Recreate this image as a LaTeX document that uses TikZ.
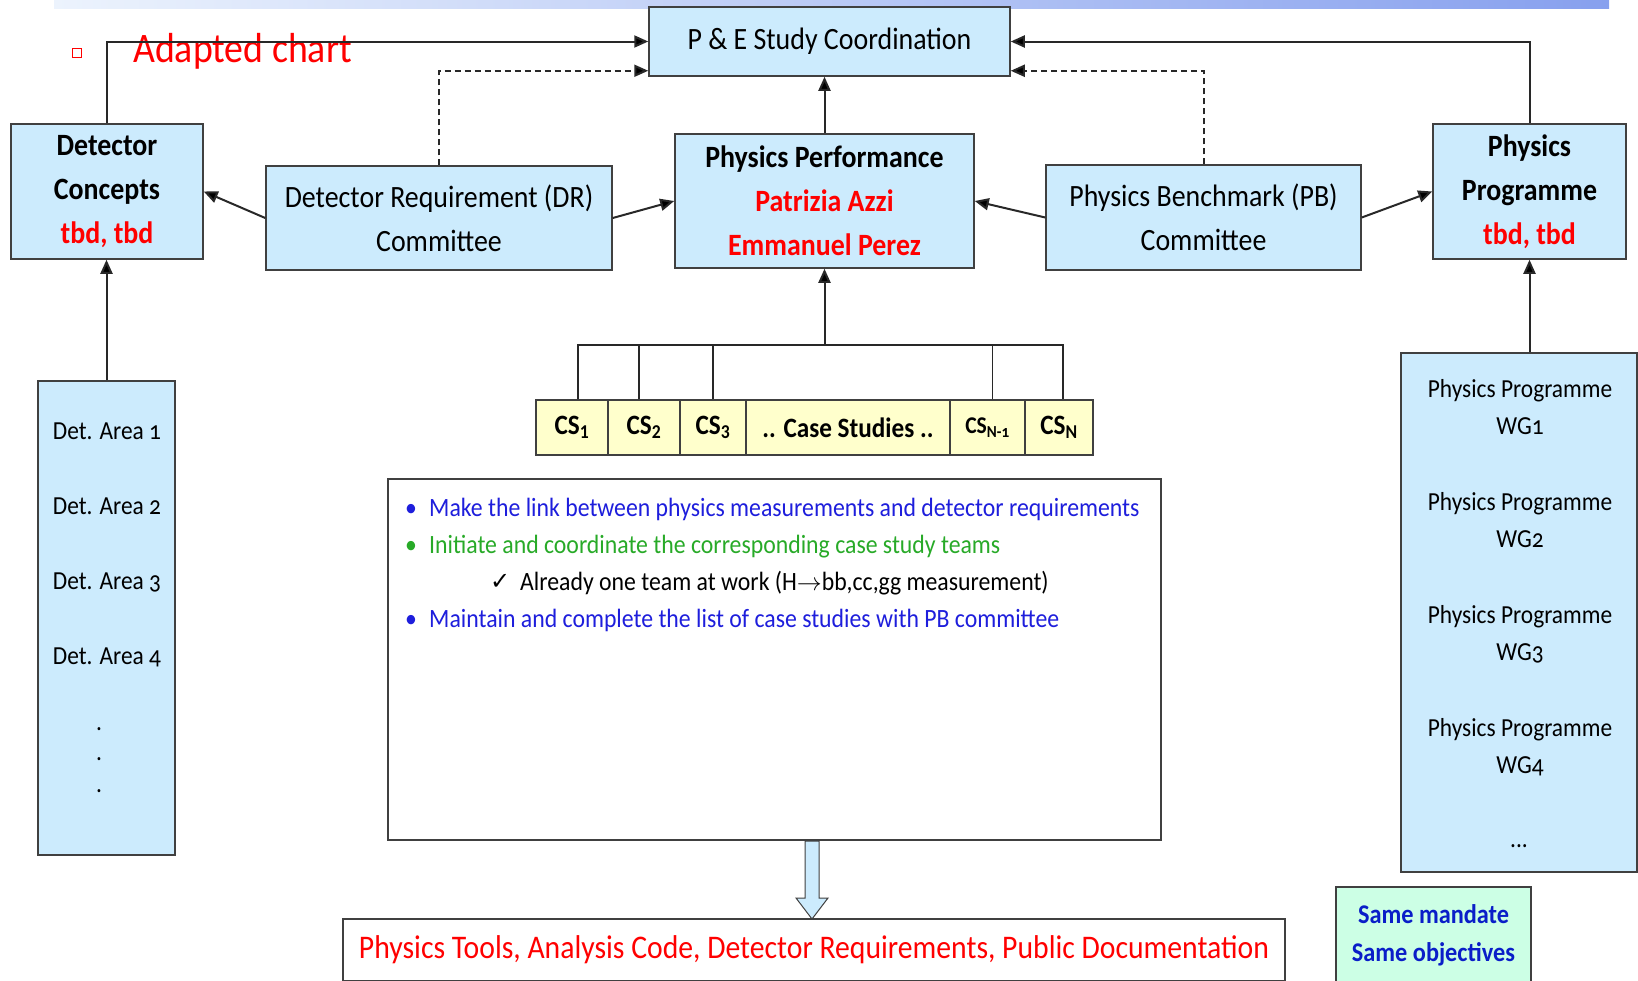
\documentclass[tikz,border=0pt]{standalone}
\usepackage{fontspec}
\setmainfont{Carlito}[FakeStretch=0.9]
\newfontfamily\oldnum{Carlito}[FakeStretch=0.9,Numbers=OldStyle]
\newfontfamily\symfont{DejaVu Sans}
\usetikzlibrary{arrows.meta}
\definecolor{boxblue}{RGB}{204,235,253}
\definecolor{boxline}{RGB}{64,64,64}
\definecolor{linkgray}{RGB}{40,40,40}
\definecolor{csyellow}{RGB}{255,255,204}
\definecolor{mintgreen}{RGB}{204,255,229}
\definecolor{textred}{RGB}{255,0,0}
\definecolor{textblue}{RGB}{30,30,220}
\definecolor{textgreen}{RGB}{40,170,40}
\definecolor{darkblue}{RGB}{10,30,200}
\definecolor{banleft}{RGB}{236,243,253}
\definecolor{banright}{RGB}{135,160,238}

\begin{document}
\begin{tikzpicture}[x=1pt, y=-1pt,
    box/.style={draw=boxline, line width=1.5pt, fill=boxblue, align=center, inner sep=0pt},
    cscell/.style={draw=boxline, line width=1.5pt, fill=csyellow, minimum height=55pt, inner sep=0pt, font=\fontsize{28}{32}\selectfont\bfseries},
    link/.style={draw=linkgray, line width=2pt, -{Triangle[length=14pt,width=12pt,fill=black]}},
    dashlink/.style={link, dash pattern=on 6pt off 4pt},
    bigfont/.style={font=\fontsize{31}{44}\selectfont},
    smallfont/.style={font=\fontsize{26}{37}\selectfont\oldnum},
    listfont/.style={font=\fontsize{26.4}{37}\selectfont, anchor=base west, inner sep=0pt}]
    \clip (0,0) rectangle (1638,980);
    \shade[left color=banleft, right color=banright] (54,0) rectangle (1609,8);

    \node[draw=textred, line width=1.5pt, minimum size=9pt, inner sep=0pt] (sq) at (77,53) {};
    \node[font=\fontsize{42}{50}\selectfont, text=textred, anchor=base west, inner sep=0pt] (title) at (133,62) {Adapted chart};

    % top row
    \node[box, bigfont, minimum width=361pt, minimum height=69pt] (pe) at (829.5,41.5) {\raisebox{-3pt}{P \& E Study Coordination}};
    \node[box, bigfont, minimum width=299pt, minimum height=134pt] (perf) at (824.5,201) {\bfseries Physics Performance\\\bfseries\color{textred}Patrizia Azzi\\\bfseries\color{textred}Emmanuel Perez};
    \node[box, bigfont, minimum width=192pt, minimum height=135pt] (dc) at (107,191.5) {\bfseries Detector\\\bfseries Concepts\\\bfseries\color{textred}tbd, tbd};
    \node[box, bigfont, minimum width=346pt, minimum height=104pt] (dr) at (439,218) {Detector Requirement (DR)\\Committee};
    \node[box, bigfont, minimum width=315pt, minimum height=105pt] (pb) at (1203.5,217.5) {Physics Benchmark (PB)\\Committee};
    \node[box, bigfont, minimum width=193pt, minimum height=135pt] (prog) at (1529.5,191.5) {\bfseries Physics\\\bfseries Programme\\\bfseries\color{textred}tbd, tbd};

    % side columns
    \node[box, minimum width=137pt, minimum height=474pt] (da) at (106.5,618) {};
    \foreach \i/\y in {1/431,2/506,3/582,4/657}
        \node[smallfont] (da\i) at (107,\y) {Det. Area \i};
    \foreach \y in {729,759,791}
        \node[smallfont, inner sep=0pt] (dot\y) at (99,\y) {.};
    \node[box, minimum width=236pt, minimum height=519pt] (wg) at (1519,612.5) {};
    \foreach \i/\y in {1/407.5,2/520,3/634,4/747}
        \node[smallfont, align=center] (wg\i) at (1520,\y) {Physics Programme\\WG\i};
    \node[smallfont] (wgdots) at (1519,846) {...};

    % case studies
    \node[cscell, minimum width=72pt] (cs1) at (572,427.5) {CS\textsubscript{1}};
    \node[cscell, minimum width=72pt] (cs2) at (644,427.5) {CS\textsubscript{2}};
    \node[cscell, minimum width=66pt] (cs3) at (713,427.5) {CS\textsubscript{3}};
    \node[cscell, minimum width=204pt] (csmid) at (848,427.5) {.. Case Studies ..};
    \node[cscell, minimum width=75pt, font=\fontsize{24}{30}\selectfont\bfseries] (csn1) at (987.5,427.5) {CS\textsubscript{N-{\oldnum 1}}};
    \node[cscell, minimum width=68pt] (csn) at (1059,427.5) {CS\textsubscript{N}};
    \coordinate (bus) at (824.5,345);

    % text box
    \node[draw=boxline, line width=1.5pt, fill=white, minimum width=773pt, minimum height=361pt] (notes) at (774.5,659.5) {};
    \node[listfont, text=textblue] (b1) at (405,516) {•};
    \node[listfont, text=textblue] (l1) at (429,516) {Make the link between physics measurements and detector requirements};
    \node[listfont, text=textgreen] (b2) at (405,553) {•};
    \node[listfont, text=textgreen] (l2) at (429,553) {Initiate and coordinate the corresponding case study teams};
    \node[listfont, font=\fontsize{24}{37}\symfont] (chk) at (490,589) {✓};
    \node[listfont] (l3) at (520,590) {Already one team at work (H$\rightarrow$bb,cc,gg measurement)};
    \node[listfont, text=textblue] (b4) at (405,627) {•};
    \node[listfont, text=textblue] (l4) at (429,627) {Maintain and complete the list of case studies with PB committee};

    % outputs
    \node[draw=boxline, line width=1.5pt, fill=white, font=\fontsize{33}{40}\selectfont, text=textred, minimum width=942pt, minimum height=62pt] (docs) at (814,950) {Physics Tools, Analysis Code, Detector Requirements, Public Documentation};
    \node[draw=boxline, line width=1.5pt, fill=mintgreen, align=center, text=darkblue, font=\fontsize{27}{38}\selectfont\bfseries, minimum width=195pt, minimum height=96pt] (same) at (1433.5,935) {Same mandate\\Same objectives};
    \draw[draw=boxline, fill=boxblue, line width=1pt] (805,841) -- (805,898) -- (796,898) -- (812,919) -- (828,898) -- (819,898) -- (819,841) -- cycle;

    % connectors
    \draw[link] (dc.north) |- (pe.west);
    \draw[link] (prog.north) |- (pe.east);
    \draw[dashlink] (dr.north) |- ([yshift=6pt]pe.south west);
    \draw[dashlink] (pb.north) |- ([yshift=6pt]pe.south east);
    \draw[link] (perf.north) -- (perf.north |- pe.south);
    \draw[link] (dr.west) -- (dc.east);
    \draw[link] (dr.east) -- (perf.west);
    \draw[link] (pb.west) -- (perf.east);
    \draw[link] (pb.east) -- (prog.west);
    \draw[link] (da.north) -- (da.north |- dc.south);
    \draw[link] (prog.south |- wg.north) -- (prog.south);
    \draw[draw=linkgray, line width=1.5pt] ([xshift=6pt]cs1.north) -- ([xshift=6pt]cs1.north |- bus) -- ([xshift=4pt]csn.north |- bus) -- ([xshift=4pt]csn.north);
    \draw[draw=linkgray, line width=1.5pt] ([xshift=-5pt]cs2.north) -- ([xshift=-5pt]cs2.north |- bus);
    \draw[draw=linkgray, line width=1.5pt] (cs3.north) -- (cs3.north |- bus);
    \draw[draw=linkgray, line width=1.5pt] ([xshift=5pt]csn1.north) -- ([xshift=5pt]csn1.north |- bus);
    \draw[link] (bus) -- (perf.south);
\end{tikzpicture}
\end{document}
